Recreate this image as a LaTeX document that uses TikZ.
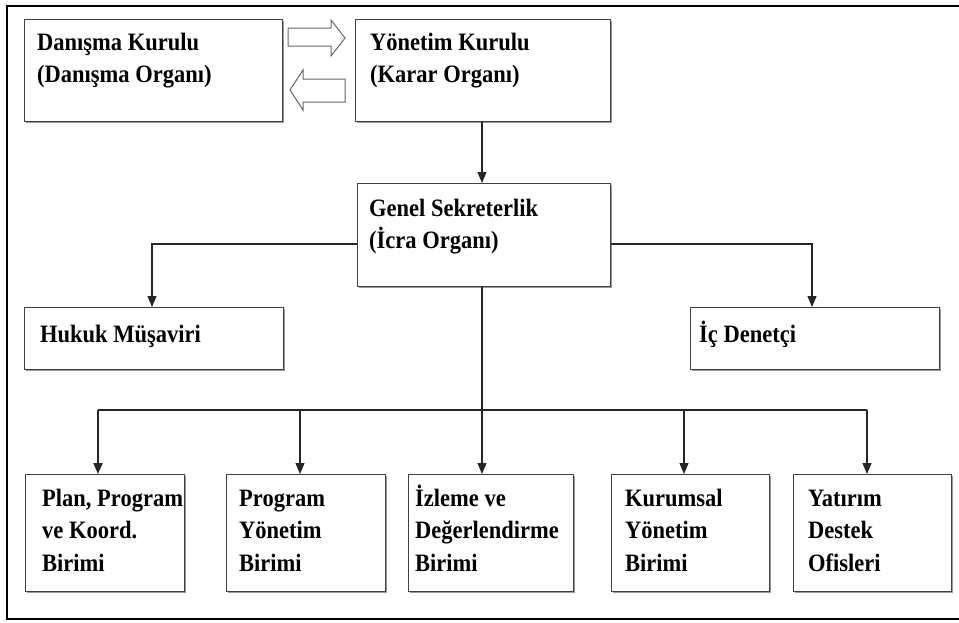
\documentclass[tikz,border=0pt]{standalone}
\usepackage{fontspec}
\setmainfont{Liberation Serif}[FakeStretch=0.9]
\usetikzlibrary{arrows.meta,shadows,calc}
\begin{document}
\begin{tikzpicture}[x=1pt,y=-1pt,
  box/.style={draw=black!75, line width=1.3pt, fill=white, rectangle, inner sep=0pt, anchor=north west,
    drop shadow={shadow xshift=1.6pt,shadow yshift=-1.6pt,fill=black!40,opacity=1}},
  txt/.style={anchor=north west, inner sep=0pt, align=left, font=\fontsize{25}{32.5}\selectfont\bfseries},
  conn/.style={draw=black!85, line width=1.2pt},
  arr/.style={conn, -{Triangle[length=11pt,width=9pt]}},
  blockarrow/.style={draw=black!60, line width=1pt, fill=white, line join=miter}]
\useasboundingbox (0,0) rectangle (959,622);
\draw[line width=2pt] (959,6) -- (7,6) -- (7,619) -- (959,619);

% boxes
\node[box, minimum width=258pt, minimum height=102pt] (dk) at (24,19) {};
\node[box, minimum width=255pt, minimum height=102pt] (yk) at (355,19) {};
\node[box, minimum width=253pt, minimum height=103pt] (gs) at (357,183) {};
\node[box, minimum width=259pt, minimum height=62pt] (hm) at (24,307) {};
\node[box, minimum width=249pt, minimum height=62pt] (id) at (690,307) {};
\node[box, minimum width=159pt, minimum height=117pt] (b1) at (25,474) {};
\node[box, minimum width=159pt, minimum height=117pt] (b2) at (226,474) {};
\node[box, minimum width=165pt, minimum height=117pt] (b3) at (408,474) {};
\node[box, minimum width=158pt, minimum height=117pt] (b4) at (611,474) {};
\node[box, minimum width=158pt, minimum height=117pt] (b5) at (793,474) {};

% texts
\node[txt] (dkt) at (37,27.25) {\strut Danışma Kurulu\\(Danışma Organı)};
\node[txt] (ykt) at (370,27.25) {\strut Yönetim Kurulu\\(Karar Organı)};
\node[txt] (gst) at (369,193.25) {\strut Genel Sekreterlik\\(İcra Organı)};
\node[txt] (hmt) at (40,319.25) {\strut Hukuk Müşaviri};
\node[txt] (idt) at (699,319.25) {\strut İç Denetçi};
\node[txt] (b1t) at (42,483.25) {\strut Plan, Program\\ve Koord.\\Birimi};
\node[txt] (b2t) at (239,483.25) {\strut Program\\Yönetim\\Birimi};
\node[txt] (b3t) at (415,483.25) {\strut İzleme ve\\Değerlendirme\\Birimi};
\node[txt] (b4t) at (625,483.25) {\strut Kurumsal\\Yönetim\\Birimi};
\node[txt] (b5t) at (808,483.25) {\strut Yatırım\\Destek\\Ofisleri};

% block arrows between top boxes
\draw[blockarrow] (288,28) -- (331,28) -- (331,20) -- (345,38) -- (331,56) -- (331,46) -- (288,46) -- cycle;
\draw[blockarrow] (345,79) -- (303,79) -- (303,70) -- (290,90) -- (303,110) -- (303,102) -- (345,102) -- cycle;

% connectors
\coordinate (c1) at (482,0);
\draw[arr] (yk.south -| c1) -- (gs.north -| c1);
\coordinate (hl) at (152,244);
\coordinate (hr) at (812,244);
\draw[arr] (gs.west |- hl) -- (hl) -- (hl |- hm.north);
\draw[arr] (gs.east |- hr) -- (hr) -- (hr |- id.north);
\coordinate (bus) at (482,410);
\coordinate (bl) at (98,410);
\coordinate (j2) at (300,410);
\coordinate (j4) at (684,410);
\coordinate (br) at (867,410);
\draw[conn] (bl) -- (br);
\draw[arr] (gs.south -| bus) -- (bus) -- (bus |- b3.north);
\draw[arr, line width=2pt] (bl) -- (bl |- b1.north);
\draw[arr] (j2) -- (j2 |- b2.north);
\draw[arr] (j4) -- (j4 |- b4.north);
\draw[arr] (br) -- (br |- b5.north);
\end{tikzpicture}
\end{document}
